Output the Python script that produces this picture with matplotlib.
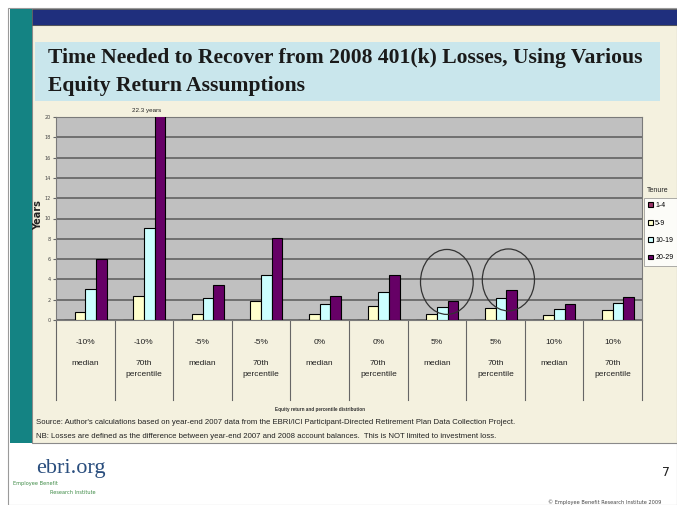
import numpy as np
import matplotlib
matplotlib.use("Agg")
import matplotlib.pyplot as plt
from matplotlib.patches import Rectangle, Ellipse
import matplotlib.transforms as mtransforms

# recovery time (years) by tenure group, for each equity return / percentile case
returns = ["-10%", "-10%", "-5%", "-5%", "0%", "0%", "5%", "5%", "10%", "10%"]
percentiles = ["median", "70th\npercentile", "median", "70th\npercentile", "median",
               "70th\npercentile", "median", "70th\npercentile", "median", "70th\npercentile"]
tenure = ["1-4", "5-9", "10-19", "20-29"]
yrs_1_4 = [0, 0, 0, 0, 0, 0, 0, 0, 0, 0]
yrs_5_9 = [0.8, 2.4, 0.6, 1.9, 0.6, 1.4, 0.6, 1.2, 0.5, 1.0]
yrs_10_19 = [3.1, 9.1, 2.2, 4.4, 1.6, 2.8, 1.3, 2.2, 1.1, 1.7]
yrs_20_29 = [6.0, 22.3, 3.4, 8.1, 2.4, 4.4, 1.9, 3.0, 1.6, 2.3]
colors = ["#993366", "#FFFFCC", "#CCFFFF", "#660066"]

W, H = 677, 505
fig = plt.figure(figsize=(6.77, 5.05), dpi=100)
fig.patch.set_facecolor("white")
narrow = ["Liberation Sans Narrow", "Liberation Sans", "DejaVu Sans"]


def px(x, y):
    return x / W, 1 - y / H


def box(x0, y0, x1, y1, **kw):
    fig.patches.append(Rectangle(px(x0, y1), (x1 - x0) / W, (y1 - y0) / H,
                                 transform=fig.transFigure, **kw))


# slide background
box(8, 8, 677, 505, facecolor="white", edgecolor="#9a9a9a", lw=0.8, zorder=-3)
box(32, 25, 677, 443, facecolor="#F4F1DF", edgecolor="#8a8a8a", lw=0.8, zorder=-3)
box(10, 9, 32, 443, facecolor="#148383", edgecolor="none", zorder=-2)
box(32, 9, 677, 25, facecolor="#1F2F7D", edgecolor="#555555", lw=0.6, zorder=-2)
box(35, 42, 660, 101, facecolor="#C9E6EC", edgecolor="none", zorder=-2)

fig.text(*px(48, 58), "Time Needed to Recover from 2008 401(k) Losses, Using Various",
         family="Liberation Serif", weight="bold", fontsize=15.6, color="#1a1a1a", va="center")
fig.text(*px(48, 86), "Equity Return Assumptions",
         family="Liberation Serif", weight="bold", fontsize=15.6, color="#1a1a1a", va="center")

# chart
ax = fig.add_axes([56 / W, 1 - 320 / H, 586 / W, 203 / H])
ax.set_zorder(2)
ax.set_facecolor("#C0C0C0")
x = np.arange(len(returns))
w = 1 / 5.5
series = [yrs_1_4, yrs_5_9, yrs_10_19, yrs_20_29]
bars = []
for i, (vals, c) in enumerate(zip(series, colors)):
    b = ax.bar(x + (i - 1.5) * w, vals, w, color=c, edgecolor="black", lw=0.8, zorder=3,
               label=tenure[i])
    bars.append(b)
ax.set_xlim(-0.5, len(returns) - 0.5)
ax.set_ylim(0, 20)
ax.set_yticks(np.arange(0, 21, 2))
ax.tick_params(axis="y", labelsize=3.5, labelcolor="#444444", length=2, pad=2, color="#666666")
ax.tick_params(axis="x", bottom=False, labelbottom=False)
ax.grid(axis="y", color="#5a5a5a", lw=1.1, zorder=1)
for s in ax.spines.values():
    s.set_color("#7a7a7a")
    s.set_linewidth(0.8)

# value above the clipped bar
top = yrs_20_29[1]
ax.text(x[1] + 0.05, 20.4, f"{top:.1f} years", fontsize=4.5, family=narrow,
        ha="center", va="bottom", color="#222222")

# circled cases
ax.add_patch(Ellipse((6.17, 3.75), 0.9, 6.4, facecolor="none", edgecolor="#333333",
                     lw=0.9, zorder=5, clip_on=False))
ax.add_patch(Ellipse((7.22, 3.95), 0.89, 6.1, facecolor="none", edgecolor="#333333",
                     lw=0.9, zorder=5, clip_on=False))

# two-level category labels
trans = mtransforms.blended_transform_factory(ax.transData, ax.transAxes)
for b in np.arange(len(returns) + 1) - 0.5:
    ax.plot([b, b], [0, -0.395], transform=trans, color="#666666", lw=0.8, clip_on=False)
for xi, r, p in zip(x, returns, percentiles):
    ax.text(xi, -0.113, r, transform=trans, ha="center", va="center", fontsize=6,
            family=narrow, color="#222222")
    ax.text(xi, -0.195, p, transform=trans, ha="center", va="top", fontsize=6,
            family=narrow, color="#222222", linespacing=1.9)

fig.text(*px(320, 409), "Equity return and percentile distribution", fontsize=3.3,
         family=narrow, weight="bold", ha="center", va="center", color="#333333")
fig.text(*px(38, 215), "Years", rotation=90, fontsize=7, weight="bold", ha="center",
         va="center", color="#222222")

# legend
fig.text(*px(647, 190), "Tenure", fontsize=5, family=narrow, va="center", color="#222222")
leg = fig.legend(handles=bars, labels=tenure, loc="upper left",
                 bbox_to_anchor=px(644, 198), frameon=True, fancybox=False,
                 handlelength=0.7, handleheight=0.7, handletextpad=0.3, labelspacing=1.5,
                 borderpad=0.6, borderaxespad=0, prop={"family": narrow, "size": 5})
leg.get_frame().set_edgecolor("#888888")
leg.get_frame().set_linewidth(0.6)
leg.set_zorder(3)

# notes
fig.text(*px(36, 423), "Source: Author's calculations based on year-end 2007 data from the "
         "EBRI/ICI Participant-Directed Retirement Plan Data Collection Project.",
         fontsize=5.6, family=narrow, va="center", color="#222222")
fig.text(*px(36, 437), "NB: Losses are defined as the difference between year-end 2007 and "
         "2008 account balances.  This is NOT limited to investment loss.",
         fontsize=5.6, family=narrow, va="center", color="#222222")

# footer
fig.text(*px(36, 469), "ebri.org", family="Liberation Serif", fontsize=16,
         color="#2A4E7E", va="center")
fig.text(*px(13, 483), "Employee Benefit", fontsize=3.6, color="#3D8A45", va="center")
fig.text(*px(50, 492), "Research Institute", fontsize=3.6, color="#3D8A45", va="center")
fig.text(*px(662, 472), "7", fontsize=9, color="#222222", va="center")
fig.text(*px(548, 502), "\u00a9 Employee Benefit Research Institute 2009", fontsize=3.6,
         color="#444444", va="center")

fig.savefig("out.png", dpi=100)
